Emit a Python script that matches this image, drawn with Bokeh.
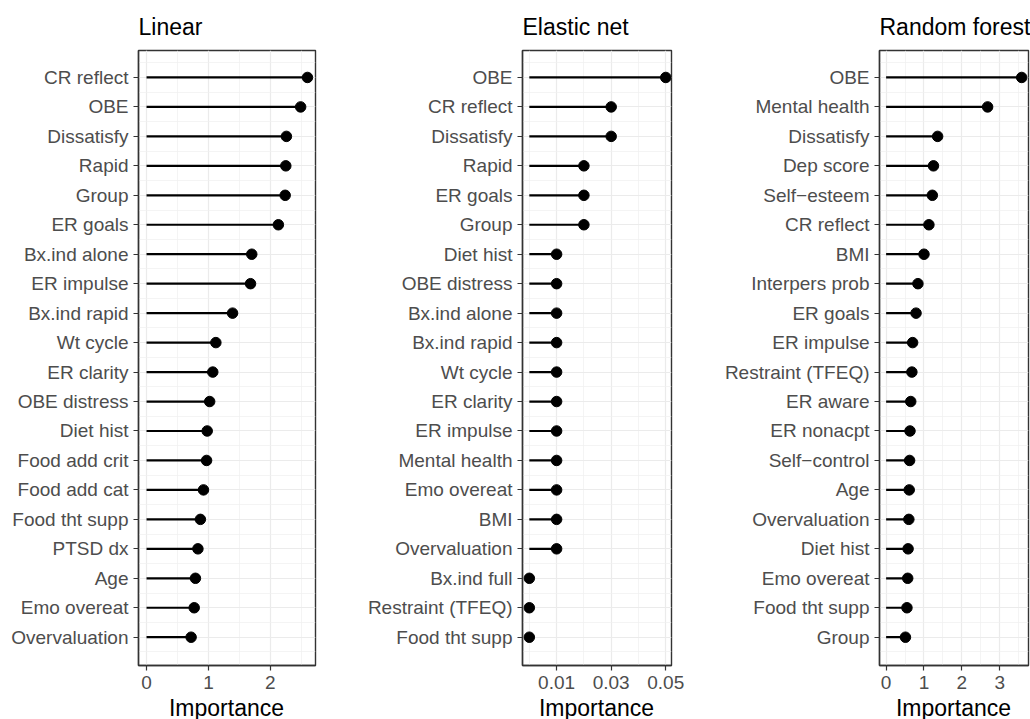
from bokeh.plotting import figure
from bokeh.models import Range1d, FixedTicker, ColumnDataSource, Div
from bokeh.layouts import row, column
from bokeh.embed import file_html
from bokeh.resources import INLINE

# ---------------- data ----------------
linear_features = ["CR reflect", "OBE", "Dissatisfy", "Rapid", "Group", "ER goals",
                   "Bx.ind alone", "ER impulse", "Bx.ind rapid", "Wt cycle", "ER clarity",
                   "OBE distress", "Diet hist", "Food add crit", "Food add cat",
                   "Food tht supp", "PTSD dx", "Age", "Emo overeat", "Overvaluation"]
linear_importance = [2.60, 2.49, 2.26, 2.25, 2.24, 2.13, 1.70, 1.68, 1.39, 1.12, 1.07,
                     1.02, 0.98, 0.97, 0.92, 0.87, 0.83, 0.79, 0.77, 0.72]

enet_features = ["OBE", "CR reflect", "Dissatisfy", "Rapid", "ER goals", "Group",
                 "Diet hist", "OBE distress", "Bx.ind alone", "Bx.ind rapid", "Wt cycle",
                 "ER clarity", "ER impulse", "Mental health", "Emo overeat", "BMI",
                 "Overvaluation", "Bx.ind full", "Restraint (TFEQ)", "Food tht supp"]
enet_importance = [0.05, 0.03, 0.03, 0.02, 0.02, 0.02, 0.01, 0.01, 0.01, 0.01, 0.01,
                   0.01, 0.01, 0.01, 0.01, 0.01, 0.01, 0.0, 0.0, 0.0]

rf_features = ["OBE", "Mental health", "Dissatisfy", "Dep score", "Self\u2212esteem",
               "CR reflect", "BMI", "Interpers prob", "ER goals", "ER impulse",
               "Restraint (TFEQ)", "ER aware", "ER nonacpt", "Self\u2212control", "Age",
               "Overvaluation", "Diet hist", "Emo overeat", "Food tht supp", "Group"]
rf_importance = [3.58, 2.68, 1.36, 1.25, 1.22, 1.13, 1.00, 0.84, 0.79, 0.70, 0.68,
                 0.65, 0.63, 0.62, 0.61, 0.60, 0.58, 0.57, 0.55, 0.51]

linear_ticks = [0, 1, 2]
linear_minor = [0.5, 1.5, 2.5]
linear_labels = ["0", "1", "2"]
enet_ticks = [0.01, 0.03, 0.05]
enet_minor = [0.0, 0.02, 0.04]
enet_labels = ["0.01", "0.03", "0.05"]
rf_ticks = [0, 1, 2, 3]
rf_minor = [0.5, 1.5, 2.5, 3.5]
rf_labels = ["0", "1", "2", "3"]

x_title = "Importance"

FONT = "Liberation Sans"
H = 698
LABEL_H = 21
TOP = 49
FRAME_H = 616


def make_panel(title, feats, vals, xr, ticks, minor, labels, width, bl, br):
    n = len(feats)
    ys = [n - i for i in range(n)]
    frame_w = width - bl - br
    src = ColumnDataSource(dict(y=ys, v=vals, z=[0] * n))
    p = figure(width=width, height=H, x_range=Range1d(*xr),
               y_range=Range1d(0.04, n + 0.915),
               output_backend="svg", toolbar_location=None,
               min_border_left=bl, min_border_right=br,
               min_border_top=TOP, min_border_bottom=H - TOP - FRAME_H)
    p.segment(x0="z", y0="y", x1="v", y1="y", source=src,
              line_color="black", line_width=2.2)
    p.scatter(x="v", y="y", source=src, size=10.5, color="black")

    p.background_fill_color = "white"
    p.border_fill_color = "white"
    p.outline_line_color = "#333333"
    p.outline_line_width = 1.4

    # title
    p.title.text = title
    p.title.align = "left"
    p.title.text_font = FONT
    p.title.text_font_size = "23px"
    p.title.text_font_style = "normal"
    p.title.text_color = "black"
    p.title.standoff = 22

    # x axis
    xt = FixedTicker(ticks=ticks, minor_ticks=minor)
    xa = p.xaxis[0]
    xa.ticker = xt
    xa.major_label_overrides = {t: l for t, l in zip(ticks, labels)}
    xa.major_label_text_font = FONT
    xa.major_label_text_font_size = "19px"
    xa.major_label_text_color = "#4D4D4D"
    xa.major_label_standoff = 5
    xa.major_tick_in = 0
    xa.major_tick_out = 5
    xa.major_tick_line_color = "#333333"
    xa.major_tick_line_width = 1.2
    xa.minor_tick_line_color = None
    xa.axis_line_color = "#333333"
    xa.axis_line_width = 1.4

    # y axis
    yt = FixedTicker(ticks=ys, minor_ticks=[k + 0.5 for k in range(0, n + 1)])
    ya = p.yaxis[0]
    ya.ticker = yt
    ya.major_label_overrides = {y: f for y, f in zip(ys, feats)}
    ya.major_label_text_font = FONT
    ya.major_label_text_font_size = "19px"
    ya.major_label_text_color = "#4D4D4D"
    ya.major_label_standoff = 5
    ya.major_tick_in = 0
    ya.major_tick_out = 5
    ya.major_tick_line_color = "#333333"
    ya.major_tick_line_width = 1.2
    ya.minor_tick_line_color = None
    ya.axis_line_color = "#333333"
    ya.axis_line_width = 1.4

    # grids
    p.xgrid.ticker = xt
    p.ygrid.ticker = yt
    for g in (p.xgrid[0], p.ygrid[0]):
        g.grid_line_color = "#EBEBEB"
        g.grid_line_width = 1.2
        g.minor_grid_line_color = "#EFEFEF"
        g.minor_grid_line_width = 0.7

    # x axis title under the panel
    d = Div(text=(f'<div style="margin-left:{bl}px;width:{frame_w}px;text-align:center;'
                  f'font-family:\'{FONT}\';font-size:23px;line-height:{LABEL_H}px;'
                  f'color:black;white-space:nowrap;">{x_title}</div>'),
            width=width, height=LABEL_H, margin=(0, 0, 0, 0))
    return column(p, d, spacing=0)


p1 = make_panel("Linear", linear_features, linear_importance, (-0.13, 2.73),
                linear_ticks, linear_minor, linear_labels, 345, 138, 30)
p2 = make_panel("Elastic net", enet_features, enet_importance, (-0.0025, 0.0521),
                enet_ticks, enet_minor, enet_labels, 345, 177, 19)
p3 = make_panel("Random forest", rf_features, rf_importance, (-0.175, 3.76),
                rf_ticks, rf_minor, rf_labels, 340, 189, 2)

layout = row(p1, p2, p3, spacing=0)
open("out.html", "w").write(file_html(layout, INLINE))
